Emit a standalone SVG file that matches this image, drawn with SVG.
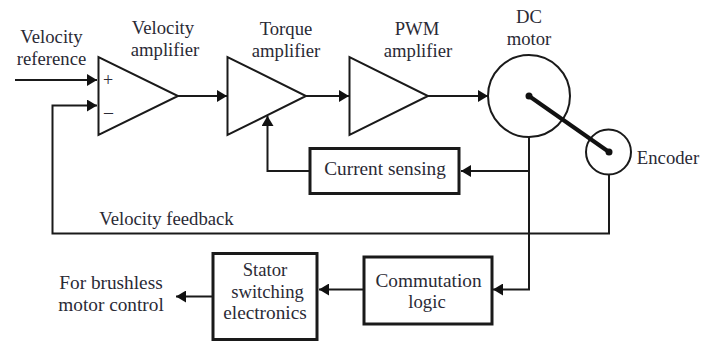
<svg xmlns="http://www.w3.org/2000/svg" width="715" height="341" viewBox="0 0 715 341">
<style>
text{font-family:"Liberation Serif","Times New Roman",serif;font-size:18.700px;fill:#2a2a35;text-anchor:middle}
text.w{font-size:19.300px}
text.m{font-size:18px}
.s{fill:#fff;stroke:#1a1a1a;stroke-width:2}
.b{fill:#fff;stroke:#1a1a1a;stroke-width:3}
.c{fill:none;stroke:#1a1a1a;stroke-width:2}
</style>
<defs><marker id="a" markerUnits="userSpaceOnUse" markerWidth="11" markerHeight="12" refX="10" refY="6" orient="auto"><path d="M0,0L10,6L0,12z" fill="#111"/></marker></defs>
<g id="connectors">
<path class="c" marker-end="url(#a)" d="M15,80H97"/>
<path class="c" marker-end="url(#a)" d="M609,174V233.500H52.500V105.500H97"/>
<path class="c" marker-end="url(#a)" d="M178,96H227"/>
<path class="c" marker-end="url(#a)" d="M306,96H349"/>
<path class="c" marker-end="url(#a)" d="M428,96H488"/>
<path class="c" marker-end="url(#a)" d="M310,171H267.500V116"/>
<path class="c" marker-end="url(#a)" d="M529,171H461"/>
<path class="c" marker-end="url(#a)" d="M529,137V289.500H493"/>
<path class="c" marker-end="url(#a)" d="M364,289.500H319"/>
<path class="c" marker-end="url(#a)" d="M213,296.500H176"/>
</g>
<g id="velocity-reference"><text x="51.500" y="43">Velocity</text><text x="51.500" y="65">reference</text></g>
<g id="velocity-amplifier"><path class="s" d="M98.500,57V135L178,96z"/><text x="163" y="34">Velocity</text><text x="165" y="56">amplifier</text><text class="m" x="108" y="86">+</text><text class="m" x="108.500" y="118">–</text></g>
<g id="torque-amplifier"><path class="s" d="M227.500,57V135L306,96z"/><text x="286" y="35">Torque</text><text x="286" y="57">amplifier</text></g>
<g id="pwm-amplifier"><path class="s" d="M349.500,57V135L428,96z"/><text x="417" y="35">PWM</text><text x="418" y="57">amplifier</text></g>
<g id="dc-motor"><circle class="s" cx="529" cy="96" r="41"/><text x="529" y="23">DC</text><text x="529" y="45">motor</text></g>
<g id="encoder"><circle class="s" cx="608.500" cy="152" r="22.500"/><text x="668" y="164">Encoder</text></g>
<path d="M529,96L609,152" fill="none" stroke="#111" stroke-width="4"/>
<circle cx="529" cy="96" r="3.500" fill="#111"/><circle cx="609" cy="152" r="3.500" fill="#111"/>
<g id="current-sensing"><rect class="b" x="310" y="148.500" width="149" height="45"/><text class="w" x="385" y="175">Current sensing</text></g>
<text x="166.500" y="225">Velocity feedback</text>
<g id="commutation-logic"><rect class="b" x="364" y="257" width="128" height="67"/><text class="w" x="428.500" y="287">Commutation</text><text x="427" y="308">logic</text></g>
<g id="stator-switching"><rect class="b" x="213" y="253.500" width="104" height="86"/><text x="265" y="276">Stator</text><text x="267.500" y="298">switching</text><text class="w" x="265" y="319">electronics</text></g>
<g id="brushless"><text class="w" x="111" y="289">For brushless</text><text class="w" x="111" y="311">motor control</text></g>
</svg>
